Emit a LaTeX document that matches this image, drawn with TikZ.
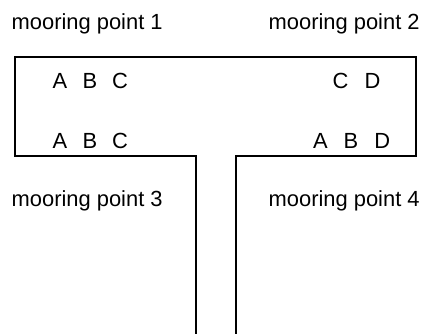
\documentclass[tikz,border=0pt]{standalone}
\usepackage{fontspec}
\setmainfont{Liberation Sans}
\begin{document}
\begin{tikzpicture}[x=1pt,y=-1pt,
  lbl/.style={anchor=base west,inner sep=0pt,font=\fontsize{21.9pt}{24pt}\selectfont},
  outline/.style={draw=black,line width=1.8pt,line join=miter}]
\useasboundingbox (0,0) rectangle (423,333);
\coordinate (tl) at (15,57);
\coordinate (tr) at (416,57);
\coordinate (br) at (416,156);
\coordinate (sr) at (236,156);
\coordinate (srb) at (236,334);
\coordinate (slb) at (196,334);
\coordinate (sl) at (196,156);
\coordinate (bl) at (15,156);
\draw[outline] (srb) -- (sr) -- (br) -- (tr) -- (tl) -- (bl) -- (sl) -- (slb);
\node[lbl] (m1) at (11.5,29) {mooring point 1};
\node[lbl] (m2) at (268.5,29) {mooring point 2};
\node[lbl] (m3) at (11.5,206) {mooring point 3};
\node[lbl] (m4) at (268.5,206) {mooring point 4};
\node[lbl] (abc1) at (52.5,88.5) {A\hspace{0.7em}B\hspace{0.68em}C};
\node[lbl] (abc2) at (52.5,148.5) {A\hspace{0.7em}B\hspace{0.68em}C};
\node[lbl] (cd) at (332.5,88.5) {C\hspace{0.74em}D};
\node[lbl] (abd) at (313,148.5) {A\hspace{0.72em}B\hspace{0.74em}D};
\end{tikzpicture}
\end{document}
